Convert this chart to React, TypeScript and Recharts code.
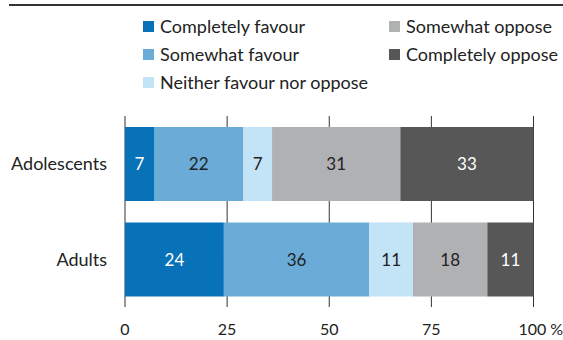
import React from 'react';
import { BarChart, Bar, XAxis, YAxis, CartesianGrid, Legend, LabelList } from 'recharts';

const categories = ['Adolescents', 'Adults'];
const completelyFavour = [7.1, 24.2];
const somewhatFavour = [21.9, 35.6];
const neitherFavourNorOppose = [7.0, 10.7];
const somewhatOppose = [31.4, 18.2];
const completelyOppose = [32.6, 11.3];
const xTicks = [0, 25, 50, 75, 100];

const series = [
  { key: 'cf', name: 'Completely favour', values: completelyFavour, color: '#0872B9', label: '#ffffff' },
  { key: 'sf', name: 'Somewhat favour', values: somewhatFavour, color: '#6AACD7', label: '#222222' },
  { key: 'nn', name: 'Neither favour nor oppose', values: neitherFavourNorOppose, color: '#C3E3F7', label: '#222222' },
  { key: 'so', name: 'Somewhat oppose', values: somewhatOppose, color: '#B0B1B3', label: '#222222' },
  { key: 'co', name: 'Completely oppose', values: completelyOppose, color: '#575757', label: '#ffffff' },
];

const data = categories.map((name, i) => {
  const row: Record<string, any> = { name };
  series.forEach((s) => { row[s.key] = s.values[i]; });
  return row;
});

const FONT = 'Lato, "Open Sans", sans-serif';
const TEXT = '#222222';

const renderLegend = (props: any) => {
  const payload = [...(props.payload || [])].sort(
    (a: any, b: any) =>
      series.findIndex((s) => s.name === a.value) - series.findIndex((s) => s.name === b.value)
  );
  const cols = [payload.slice(0, 3), payload.slice(3)];
  const colX = [143, 389];
  return (
    <div style={{ position: 'relative', width: 563, height: 100 }}>
      {cols.map((col: any[], ci: number) =>
        col.map((p: any, ri: number) => (
          <div
            key={p.value}
            style={{
              position: 'absolute',
              left: colX[ci],
              top: 26 + ri * 28 - 12,
              height: 24,
              display: 'flex',
              alignItems: 'center',
              whiteSpace: 'nowrap',
              fontFamily: FONT,
              fontSize: 18,
              color: TEXT,
            }}
          >
            <span style={{ display: 'inline-block', width: 11, height: 11, background: p.color, marginRight: 6 }} />
            {p.value}
          </div>
        ))
      )}
    </div>
  );
};

const XTick = (props: any) => {
  const { x, y, payload } = props;
  const v = payload.value;
  if (v === 100) {
    return (
      <text x={x - 15} y={y} textAnchor="start" dy="0.71em" fill={TEXT} fontFamily={FONT} fontSize={16}>
        <tspan>{v}</tspan>
        <tspan dx={4}>%</tspan>
      </text>
    );
  }
  return (
    <text x={x} y={y} textAnchor="middle" dy="0.71em" fill={TEXT} fontFamily={FONT} fontSize={16}>
      {v}
    </text>
  );
};

export default function App() {
  return (
    <div style={{ position: 'absolute', left: 0, top: 0, width: 563, height: 340, background: '#fff' }}>
      <div style={{ position: 'absolute', left: 9, top: 4, width: 554, height: 2, background: '#333333' }} />
      <BarChart
        width={563}
        height={340}
        data={data}
        layout="vertical"
        margin={{ top: 116, right: 29.5, bottom: 0, left: 0 }}
        barSize={74}
      >
        <CartesianGrid horizontal={false} vertical={true} stroke="#333333" strokeWidth={1} />
        <XAxis
          type="number"
          domain={[0, 100]}
          ticks={xTicks}
          axisLine={false}
          tickLine={false}
          tickSize={0}
          tickMargin={17}
          height={33}
          tick={<XTick />}
          interval={0}
        />
        <YAxis
          type="category"
          dataKey="name"
          width={125}
          axisLine={false}
          tickLine={false}
          tickSize={0}
          tickMargin={18}
          tick={{ fill: TEXT, fontFamily: FONT, fontSize: 18 }}
        />
        <Legend
          layout="horizontal"
          verticalAlign="middle"
          align="center"
          wrapperStyle={{ position: 'absolute', top: 0, left: 0, width: 563, height: 100 }}
          content={renderLegend}
        />
        {series.map((s) => (
          <Bar key={s.key} dataKey={s.key} name={s.name} stackId="a" fill={s.color} isAnimationActive={false}>
            <LabelList
              dataKey={s.key}
              position="center"
              formatter={(v: any) => Math.round(Number(v))}
              fill={s.label}
              style={{ fontFamily: FONT, fontSize: 17 }}
            />
          </Bar>
        ))}
      </BarChart>
    </div>
  );
}
